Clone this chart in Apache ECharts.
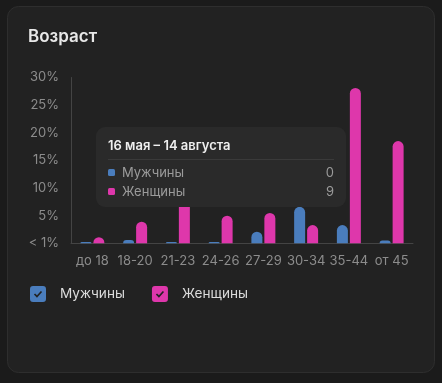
<!DOCTYPE html>
<html><head><meta charset="utf-8">
<script src="https://cdn.jsdelivr.net/npm/echarts@6/dist/echarts.min.js"></script>
<style>
html,body{margin:0;padding:0;background:#1b1b1b;}
#c{width:442px;height:383px;}
</style></head>
<body><div id="c"></div>
<script>
var titleText = 'Возраст';
var categories = ['до 18','18-20','21-23','24-26','27-29','30-34','35-44','от 45'];
var seriesNames = ['Мужчины','Женщины'];
var menValues = [0.25, 0.6, 0.25, 0.25, 2.1, 6.6, 3.3, 0.5];
var womenValues = [1.1, 3.9, 9, 5, 5.5, 3.3, 28.1, 18.5];
var yTickLabels = ['< 1%','5%','10%','15%','20%','25%','30%'];
var tooltipTitle = '16 мая – 14 августа';
var tooltipIndex = 2;
var colors = ['#4a7dbd','#de37ab'];

var checkIcon = 'path://M3 0H13Q16 0 16 3V13Q16 16 13 16H3Q0 16 0 13V3Q0 0 3 0Z M3.9 8.6L7 11.7L12.1 6.1L10.9 4.9L7 9.2L5.1 7.4Z';

var chart = echarts.init(document.getElementById('c'), null, {renderer:'canvas'});
var font = 'Inter, "Noto Sans", sans-serif';

function fmtTip() {
  var rows = [menValues, womenValues].map(function(arr, i){
    return '<div style="display:flex;align-items:center;height:19px;line-height:19px;">' +
      '<span style="display:inline-block;width:7px;height:7px;border-radius:1.5px;background:'+colors[i]+';margin-right:7px;"></span>' +
      '<span style="flex:1;color:#9b9b9b;">'+seriesNames[i]+'</span>' +
      '<span style="color:#9b9b9b;">'+Math.round(arr[tooltipIndex])+'</span></div>';
  }).join('');
  return '<div style="font-family:'+font.replace(/"/g,"'")+';font-size:13px;">' +
    '<div style="font-weight:600;color:#efefef;font-size:13px;line-height:16px;height:16px;">'+tooltipTitle+'</div>' +
    '<div style="height:1px;background:#3a3a3a;margin:6px 0 3px 0;"></div>' + rows + '</div>';
}

chart.setOption({
  animation:false,
  backgroundColor:'#1b1b1b',
  textStyle:{fontFamily:font},
  graphic:[{type:'rect', z:-10, shape:{x:7.5,y:6.5,width:427,height:366,r:11},
    style:{fill:'#222222', stroke:'#2e2e2e', lineWidth:1}}],
  title:{text:titleText, left:28, top:28, padding:0,
    textStyle:{color:'#e8e8e8', fontSize:17, fontWeight:600, fontFamily:font}},
  legend:{left:30, top:286, padding:0, itemWidth:16, itemHeight:16, itemGap:27,
    icon:checkIcon, selectedMode:false,
    textStyle:{color:'#dcdcdc', fontSize:13.6, padding:[0,0,0,9], fontFamily:font},
    data:seriesNames},
  tooltip:{trigger:'axis', triggerOn:'none', alwaysShowContent:true, transitionDuration:0,
    axisPointer:{type:'none'}, position:[96,127],
    backgroundColor:'#2a2a2a', borderWidth:0, padding:[10,12,6,12],
    extraCssText:'border-radius:9px;box-shadow:none;width:250px;box-sizing:border-box;',
    formatter:fmtTip},
  grid:{left:71, right:29, top:77.5, bottom:139.7, containLabel:false},
  xAxis:{type:'category', data:categories,
    axisLine:{show:true, lineStyle:{color:'#444444', width:1}},
    axisTick:{show:false},
    axisLabel:{color:'#8c8c8c', fontSize:13, margin:11, interval:0, fontFamily:font}},
  yAxis:{type:'value', min:0, max:30, interval:5,
    axisLine:{show:true, lineStyle:{color:'#444444', width:1}},
    axisTick:{show:false}, splitLine:{show:false},
    axisLabel:{color:'#8c8c8c', fontSize:13, margin:12, fontFamily:font,
      formatter:function(v){return yTickLabels[Math.round(v/5)];}}},
  series:[
    {name:seriesNames[0], type:'bar', data:menValues, barWidth:11, barGap:'18%',
      emphasis:{disabled:true},
      itemStyle:{color:colors[0], borderRadius:[5.5,5.5,0,0]}},
    {name:seriesNames[1], type:'bar', data:womenValues, barWidth:11, barGap:'18%',
      emphasis:{disabled:true},
      itemStyle:{color:colors[1], borderRadius:[5.5,5.5,0,0]}}
  ]
});
chart.dispatchAction({type:'showTip', seriesIndex:0, dataIndex:tooltipIndex});
</script></body></html>
